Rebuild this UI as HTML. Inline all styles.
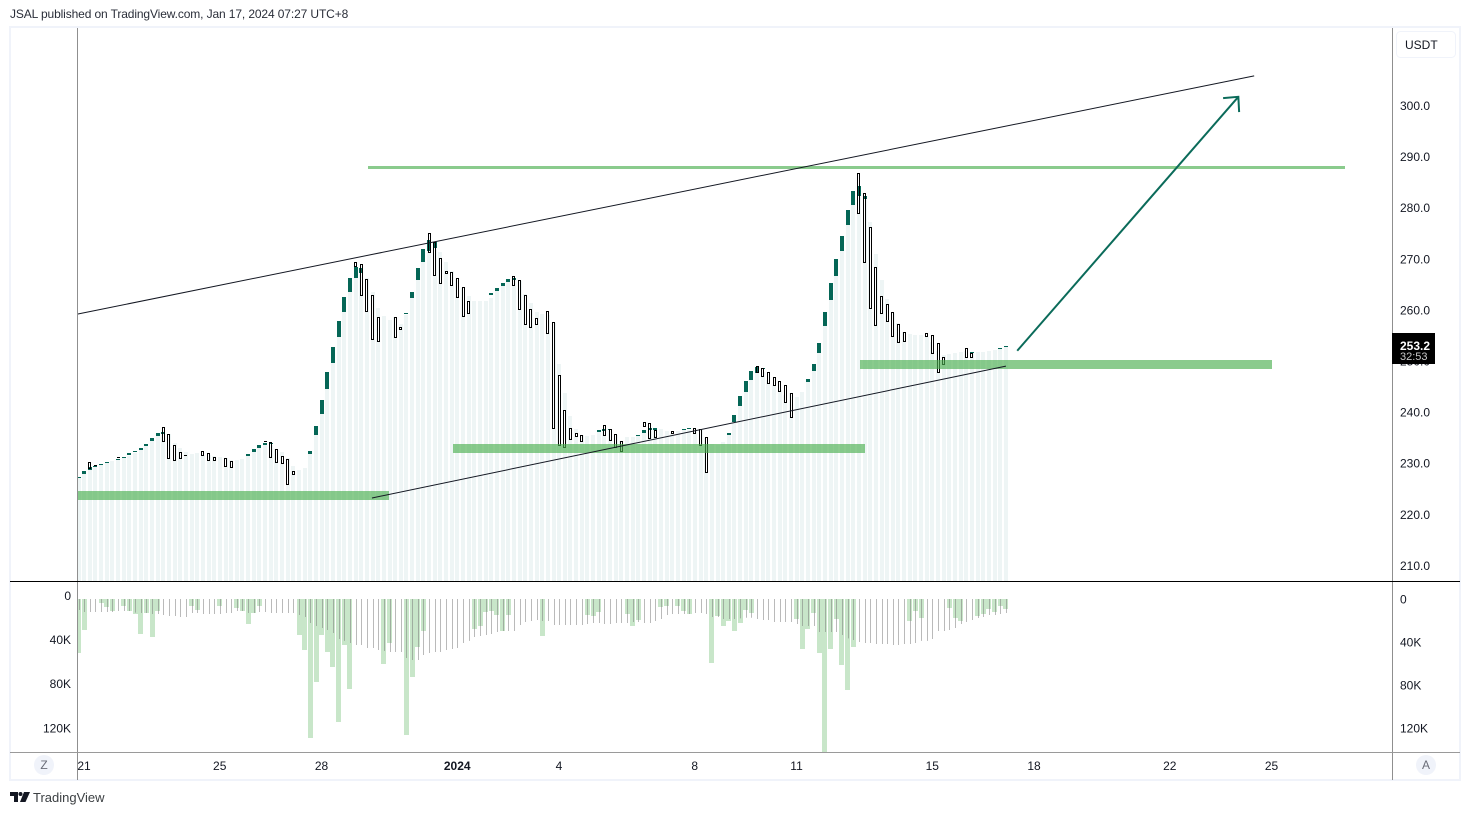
<!DOCTYPE html>
<html lang="en">
<head>
<meta charset="utf-8">
<title>JSAL chart</title>
<style>
html,body{margin:0;padding:0;background:#fff;}
body{width:1470px;height:815px;overflow:hidden;position:relative;font-family:"Liberation Sans",sans-serif;color:#131722;}
#publish-line{position:absolute;left:10px;top:7px;font-size:12px;line-height:14px;color:#2a2e39;letter-spacing:-.12px;white-space:nowrap;}
#chart{position:absolute;left:0;top:0;}
text{font-family:"Liberation Sans",sans-serif;font-size:12px;fill:#131722;}
#brand-text{position:absolute;left:33px;top:790px;font-size:13px;line-height:15px;color:#3c4043;white-space:nowrap;}
</style>
</head>
<body>
<div id="publish-line">JSAL published on TradingView.com, Jan 17, 2024 07:27 UTC+8</div>
<svg id="chart" width="1470" height="815" viewBox="0 0 1470 815">
  <defs>
    <clipPath id="vol-clip"><rect x="78" y="582" width="1314" height="170"></rect></clipPath>
  </defs>
  <rect x="10" y="27" width="1450" height="753" fill="#fff" stroke="#f0f3fa" stroke-width="2"></rect>
  <g id="mountain-layer"></g>
  <g id="candle-layer"></g>
  <g id="drawing-layer"></g>
  <g id="volume-layer" clip-path="url(#vol-clip)"></g>
  <line x1="77.5" y1="28" x2="77.5" y2="780" stroke="#8f8f8f"></line>
  <line x1="1392.5" y1="28" x2="1392.5" y2="780" stroke="#8f8f8f"></line>
  <line x1="10" y1="581.5" x2="1460" y2="581.5" stroke="#000"></line>
  <line x1="10" y1="752.5" x2="1460" y2="752.5" stroke="#9a9a9a"></line>
  <g id="axis-layer"></g>
  <rect x="1396.5" y="31.5" width="59" height="26" rx="4" fill="#fff" stroke="#f0f3fa"></rect>
  <text x="1405" y="49" fill="#131722">USDT</text>
  <rect x="1392" y="333" width="43" height="31" fill="#000"></rect>
  <text x="1400" y="350" style="fill:#fff;font-weight:bold">253.2</text>
  <text x="1400" y="360" style="fill:#c8c8c8;font-size:11px">32:53</text>
  <circle cx="44" cy="765" r="10" fill="#f0f3fa"></circle>
  <text x="44" y="769" text-anchor="middle" style="fill:#6a6d78">Z</text>
  <circle cx="1426" cy="765" r="10" fill="#f0f3fa"></circle>
  <text x="1426" y="769" text-anchor="middle" style="fill:#6a6d78">A</text>
  <g fill="#131722">
    <polygon points="10,792 18,792 18,802 14,802 14,796 10,796"></polygon>
    <circle cx="20.5" cy="794" r="2"></circle>
    <polygon points="24,792 30,792 25.5,802 20,802"></polygon>
  </g>
</svg>
<div id="brand-text">TradingView</div>
<script>
const mountainValues = [227.1,227.9,228.8,229.3,229.6,230.0,230.4,230.6,231.0,231.5,231.9,232.6,233.4,234.3,235.3,235.8,235.8,233.9,232.9,232.2,231.8,232.0,231.6,231.6,231.5,231.3,231.1,230.6,230.6,230.8,231.4,232.2,233.0,233.6,233.6,232.7,232.2,231.0,229.4,228.7,229.1,231.8,235.5,239.6,244.5,249.6,254.7,259.6,263.5,266.2,267.8,266.2,263.5,260.4,258.8,258.0,258.7,257.2,259.0,262.3,265.9,269.4,271.5,272.1,271.3,269.4,267.6,266.0,264.3,262.7,261.7,261.7,261.7,262.3,263.7,264.7,265.5,265.9,265.7,263.1,261.3,259.6,259.1,259.0,257.4,249.4,243.7,239.2,236.7,235.6,235.3,235.6,236.1,236.6,236.6,235.5,234.4,235.1,235.2,235.3,235.9,236.5,236.6,236.7,236.3,236.0,236.3,236.4,236.5,236.6,236.6,234.9,233.8,233.6,234.2,235.5,238.1,241.2,243.9,246.3,247.6,247.9,246.3,245.4,244.3,243.3,243.7,243.0,244.0,245.9,248.0,251.6,256.9,261.9,266.6,271.5,276.6,280.5,282.3,281.7,277.2,270.9,265.9,262.1,259.4,257.4,255.7,255.3,255.1,255.1,254.7,253.8,252.0,251.2,251.3,251.5,251.8,252.0,251.8,251.8,251.8,252.0,252.2,252.4,252.8];

const upBars = [0,1,2,3,4,5,7,8,9,10,11,12,13,14,15,30,31,32,33,34,41,42,43,44,45,46,47,48,49,50,58,59,60,61,62,63,73,74,75,76,77,92,93,94,99,100,101,102,107,108,115,116,117,118,119,120,121,129,130,131,132,133,134,135,136,137,138,139,158,163,164];
const upOpen = [227.1,227.9,228.7,229.3,229.7,230.1,230.7,231.1,231.7,232.1,232.6,233.4,234.3,235.3,235.7,231.4,232.2,233.0,233.6,233.7,231.8,235.5,239.6,244.5,249.6,254.7,259.6,263.5,266.2,267.2,259.1,262.3,265.9,269.4,271.5,272.1,262.9,263.7,264.7,265.5,265.9,236.1,236.3,236.4,235.4,235.9,236.5,236.5,236.4,236.6,235.5,238.1,241.2,243.9,246.3,247.6,248.4,245.9,248.0,251.6,256.9,261.9,266.6,271.5,276.6,280.5,282.3,281.7,251.6,252.4,252.8];
const upClose = [227.3,228.5,229.2,229.5,229.9,230.3,230.9,231.3,231.9,232.3,233.0,233.8,234.9,235.9,236.1,231.8,232.8,233.6,234.0,233.9,232.4,237.3,242.4,247.8,252.7,257.8,262.5,266.2,268.4,268.2,259.3,263.5,268.2,271.9,273.7,273.3,263.3,264.3,265.3,266.1,266.3,236.5,236.7,236.6,235.6,236.5,236.9,236.9,236.6,236.8,236.0,239.4,243.1,246.1,248.0,248.8,248.6,246.5,249.4,253.5,259.6,265.3,269.9,274.5,279.6,283.3,284.2,282.3,251.8,252.6,253.0];

const downBars = [2,3,7,15,16,17,18,19,22,23,24,26,27,33,34,35,36,37,38,49,50,51,52,53,56,57,62,63,64,65,66,67,68,69,77,78,79,80,81,83,84,85,86,87,88,89,93,94,95,96,100,101,102,105,109,110,111,120,121,122,123,124,125,126,138,139,140,141,142,143,144,145,146,150,151,152,153,157,158];
const downOpen = [230.2,229.7,231.2,237.0,235.8,233.5,232.1,231.6,232.3,231.9,231.3,231.1,230.4,234.4,234.1,232.7,231.5,230.9,228.4,269.3,268.9,266.0,262.9,258.7,258.7,256.7,275.0,273.3,270.1,267.7,267.5,266.2,264.4,261.7,266.6,265.8,263.0,260.1,258.4,259.7,257.6,247.2,240.5,236.8,235.9,235.6,237.4,236.6,235.7,234.3,238.0,237.8,236.4,236.3,236.8,236.6,235.1,249.0,248.6,247.8,246.8,246.0,245.3,243.7,286.7,282.8,276.2,268.3,262.7,261.1,259.5,257.2,255.6,255.4,255.0,253.5,250.7,252.5,251.5];
const downClose = [229.0,229.5,231.0,234.4,231.1,230.7,231.1,231.4,231.6,230.6,230.7,229.5,229.3,234.2,231.3,230.3,230.1,226.0,227.8,268.6,263.0,259.8,254.4,254.0,254.6,256.3,271.4,266.9,265.3,267.3,264.8,262.6,258.9,259.4,264.9,260.2,257.3,256.7,257.3,255.4,236.8,233.6,233.2,234.8,235.4,234.4,235.6,234.6,233.1,232.3,237.3,235.0,235.2,236.0,236.0,233.6,228.3,247.9,247.1,245.6,245.4,244.2,242.0,239.1,278.9,269.4,260.4,257.1,259.4,257.9,254.9,253.8,254.0,254.8,251.6,247.9,249.5,250.7,250.7];

const volumeBars = [0,1,4,5,6,8,9,10,11,12,13,14,20,21,25,28,29,30,31,32,39,40,41,42,43,44,45,46,47,48,54,55,58,59,60,61,70,71,72,73,74,75,76,82,90,91,92,97,98,99,103,104,106,107,108,112,113,114,115,116,117,118,119,127,128,129,130,131,132,133,134,135,136,137,147,148,149,154,155,156,159,160,161,162,163,164];
const volumeValues = [50,29,3.4,7.4,11,6.5,11,14,32.6,13,35,11,6.5,10,6.5,8.4,11,23,13,6.5,33.5,47.4,129,77,33.5,49,63,114,43,84,60,41,126.5,72.5,44.7,30,28,25,12,11,15,30,15,34.4,15,16,12,14,25,19.5,7.4,6.5,6.5,11,14,59.5,16,25,20.5,30,22,10,13,18.6,46.5,28,13,50,165,46.5,18.6,61,84.7,44.7,20.5,11,17.7,8.4,17.7,20.5,16,14,9.3,12,6.5,9.3];
const smoothVolume = [10.2,12.1,12.1,12.1,12.1,12.1,12.1,11.2,11.2,11.2,12.7,13,13,14,14,14.9,15.8,15.8,16.7,16.7,13,13,14,14,14,14,13,13,11.2,11.2,13,13,12.1,12.1,13,13,13,13,13,14.9,16.7,22.3,25.1,27,28.8,31.6,37.2,39,40.9,42.8,42.8,45.6,45.6,47.4,48.4,49.3,49.3,49.3,54.9,56.7,56.7,52.1,50.2,49.3,49.3,47.4,46.5,45.6,40.9,39,35.3,34.4,33.5,32.6,30.7,29.8,29.8,29.8,24.2,21.4,20.5,19.5,20.5,20.5,24.2,24.2,24.2,24.2,24.2,24.2,23.3,22.3,22.3,23.3,23.3,22.3,22.3,22.3,21.4,21.4,22.3,22.3,20.5,18.6,14.9,14,14,14,14,13,13,14,16.7,16.7,18.6,18.6,18.6,18,17.4,17.4,18.6,19.5,19.5,21.4,21.4,21.4,21.4,23.3,25.1,25.1,25.1,30.7,30.7,30.7,30.7,33.5,36.6,38.1,40,40.9,40.9,41.9,41.9,41.9,42.8,42.8,41.9,41.9,40.9,39,39,37.2,29.8,29.8,28.8,27,23.3,21.4,19.5,17.7,16.7,14.9,14.9,14,13];

const priceTicks = [300,290,280,270,260,250,240,230,220,210];
const dayOffsets = [0,4,7,11,14,18,21,25,28,32,35];
const dayLabels = ["21","25","28","2024","4","8","11","15","18","22","25"];
const volumeTicksRight = [0,40,80,120];
const volumeLabels = ["0","40K","80K","120K"];
const volumeLeftOffsets = [-3.5,-2.5,-1.5,0];

const upperTrendBars = [-0.1,207.9];
const upperTrendPrices = [259.2,305.8];
const lowerTrendBars = [51.9,164];
const lowerTrendPrices = [223.2,249.0];
const resistanceBars = [51.2,224];
const resistancePrice = 287.9;
const zoneStartBars = [-0.1,66.2,138.2];
const zoneEndBars = [54.9,139.1,211.0];
const zoneHighs = [224.6,233.8,250.2];
const zoneLows = [222.8,232.0,248.4];
const arrowBars = [166,205.1];
const arrowPrices = [252.0,301.7];

const SVGNS = "http://www.w3.org/2000/svg";
function xBar(i){return 78.5 + 5.655*i;}
function yPrice(p){return 105.5 + (300-p)*5.11;}
function yVolume(v){return 599 + v*1.075;}
function xDay(d){return 84 + d*33.93;}
function make(parent, tag, attrs){
  const n = document.createElementNS(SVGNS, tag);
  for(const k in attrs){n.setAttribute(k, attrs[k]);}
  parent.appendChild(n);
  return n;
}
const mountainLayer = document.getElementById("mountain-layer");
const candleLayer = document.getElementById("candle-layer");
const drawingLayer = document.getElementById("drawing-layer");
const volumeLayer = document.getElementById("volume-layer");
const axisLayer = document.getElementById("axis-layer");

mountainValues.forEach(function(v,i){
  const top = Math.round(yPrice(v));
  const el = make(mountainLayer,"rect",{x:Math.round(xBar(i)-2),y:top,width:4,height:581-top,fill:"#eef5f5"});
  
  
});

downBars.forEach(function(b,i){
  const t = yPrice(downOpen[i]), h = Math.max(1,yPrice(downClose[i])-t);
  const el = make(candleLayer,"rect",{x:Math.round(xBar(b)-1.5),y:Math.round(t),width:3,height:Math.round(h),fill:"#fff"});
  
  
});
upBars.forEach(function(b,i){
  const t = Math.round(yPrice(upClose[i])), h = Math.max(1,Math.round(yPrice(upOpen[i]))-t);
  const el = make(candleLayer,"rect",{x:Math.round(xBar(b)-2),y:t,width:4,height:h,fill:"#056656"});
  
  
});
downBars.forEach(function(b,i){
  const t = Math.round(yPrice(downOpen[i])), h = Math.round(yPrice(downClose[i]))-t;
  if(h<=1){
    const el = make(candleLayer,"rect",{x:Math.round(xBar(b)-1.5),y:t,width:3,height:1,fill:"#000"});
    
    
  } else {
    const el = make(candleLayer,"rect",{x:Math.round(xBar(b)-1.5)+0.5,y:t+0.5,width:2,height:h,fill:"none",stroke:"#000"});
    
    
  }
});

zoneStartBars.forEach(function(b,i){
  const top = Math.round(yPrice(zoneHighs[i])), x0 = Math.round(xBar(b));
  const el = make(drawingLayer,"rect",{x:x0,y:top,width:Math.round(xBar(zoneEndBars[i]))-x0,height:Math.round(yPrice(zoneLows[i]))-top,fill:"rgba(76,175,80,0.65)"});
  
  
});
const resistanceLine = make(drawingLayer,"rect",{x:Math.round(xBar(resistanceBars[0])),y:Math.round(yPrice(resistancePrice))-1,width:Math.round(xBar(resistanceBars[1]))-Math.round(xBar(resistanceBars[0])),height:3,fill:"rgba(76,175,80,0.65)"});


const upperTrend = make(drawingLayer,"line",{x1:xBar(upperTrendBars[0]),y1:yPrice(upperTrendPrices[0]),x2:xBar(upperTrendBars[1]),y2:yPrice(upperTrendPrices[1]),stroke:"#131722","stroke-width":1});


const lowerTrend = make(drawingLayer,"line",{x1:xBar(lowerTrendBars[0]),y1:yPrice(lowerTrendPrices[0]),x2:xBar(lowerTrendBars[1]),y2:yPrice(lowerTrendPrices[1]),stroke:"#131722","stroke-width":1});



const ax0 = xBar(arrowBars[0]), ay0 = yPrice(arrowPrices[0]), ax1 = xBar(arrowBars[1]), ay1 = yPrice(arrowPrices[1]);
const arrowAngle = Math.atan2(ay0-ay1, ax0-ax1);
const headA = arrowAngle + 44*Math.PI/180, headB = arrowAngle - 44*Math.PI/180;
const arrowPath = make(drawingLayer,"path",{d:"M"+ax0+" "+ay0+"L"+ax1+" "+ay1+"M"+(ax1+15.3*Math.cos(headA))+" "+(ay1+15.3*Math.sin(headA))+"L"+ax1+" "+ay1+"L"+(ax1+15.3*Math.cos(headB))+" "+(ay1+15.3*Math.sin(headB)),fill:"none",stroke:"#0b6b5a","stroke-width":2});



volumeBars.forEach(function(b,i){
  const el = make(volumeLayer,"rect",{x:Math.round(xBar(b)-2.5),y:599,width:5,height:Math.round(yVolume(volumeValues[i])-599),fill:"#c8e6c9"});
  
  
});
smoothVolume.forEach(function(v,i){
  const x = Math.round(xBar(i))+0.5;
  const el = make(volumeLayer,"line",{x1:x,y1:599,x2:x,y2:yVolume(v),stroke:"rgba(117,117,117,0.5)","stroke-width":1});
  
  
});

priceTicks.forEach(function(p){
  const t = make(axisLayer,"text",{x:1400,y:yPrice(p)+4.5});
  t.textContent = p.toFixed(1);
  
  
});
dayOffsets.forEach(function(d,i){
  const t = make(axisLayer,"text",{x:xDay(d),y:770,"text-anchor":"middle"});
  t.textContent = dayLabels[i];
  if(dayLabels[i]==="2024"){t.style.fontWeight="bold";}
  
  
});
volumeTicksRight.forEach(function(v,i){
  const right = make(axisLayer,"text",{x:1400,y:yVolume(v)+4.5});
  right.textContent = volumeLabels[i];
  
  
  const left = make(axisLayer,"text",{x:71,y:yVolume(v)+4.5+volumeLeftOffsets[i],"text-anchor":"end"});
  left.textContent = volumeLabels[i];
  
  
});
</script>
</body>
</html>
